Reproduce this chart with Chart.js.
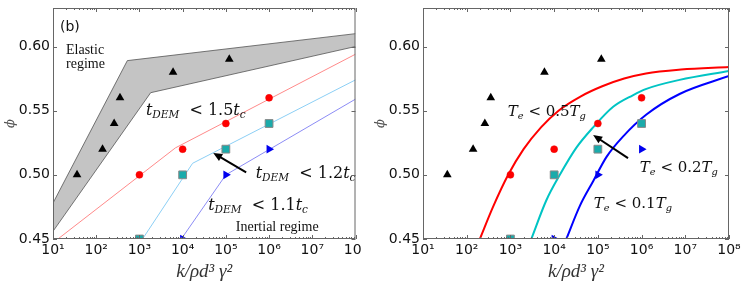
<!DOCTYPE html>
<html>
<head>
<meta charset="utf-8">
<script src="https://cdn.jsdelivr.net/npm/chart.js@4.4.1/dist/chart.umd.min.js"></script>
<style>
  body { margin: 0; background: #fff; }
  .panel { position: absolute; top: 0; height: 286px; }
  #left { left: 0; width: 362px; }
  #right { left: 370px; width: 377px; }
</style>
</head>
<body>
<div class="panel" id="left"><canvas id="chartLeft"></canvas></div>
<div class="panel" id="right"><canvas id="chartRight"></canvas></div>
<script>
// simulation points (same in both panels)
const triX = [36, 140, 260, 355, 6000, 120000];
const triY = [0.50, 0.52, 0.54, 0.56, 0.58, 0.59];
const circX = [1e3, 1e4, 1e5, 1e6];
const circY = [0.50, 0.52, 0.54, 0.56];
const sqX = [1e3, 1e4, 1e5, 1e6];
const sqY = [0.45, 0.50, 0.52, 0.54];
const rtriX = [1e4, 1e5, 1e6];
const rtriY = [0.45, 0.50, 0.52];

// left panel: elastic band and t_DEM limit lines
const bandTopX = [10, 525, 1e8];
const bandTopY = [0.478, 0.589, 0.610];
const bandLowX = [10, 1820, 1e8];
const bandLowY = [0.456, 0.564, 0.600];
const lim15X = [13, 6800, 1e8];
const lim15Y = [0.45, 0.521, 0.594];
const lim12X = [1180, 17000, 1e8];
const lim12Y = [0.45, 0.509, 0.574];
const lim11X = [9300, 1e5, 1e8];
const lim11Y = [0.45, 0.50, 0.559];

// right panel: T_e limit curves
const te05X = [200, 400, 890, 2000, 5000, 12600, 40000, 126000, 400000, 1.26e6, 8e6, 1e8];
const te05Y = [0.450, 0.475, 0.500, 0.520, 0.537, 0.550, 0.561, 0.569, 0.575, 0.579, 0.582, 0.584];
const te02X = [3000, 6600, 13500, 32000, 78000, 224000, 630000, 1.29e6, 7.4e6, 1e8];
const te02Y = [0.450, 0.480, 0.500, 0.521, 0.537, 0.553, 0.562, 0.567, 0.574, 0.581];
const te01X = [19000, 39000, 78000, 158000, 380000, 1.29e6, 7.4e6, 1e8];
const te01Y = [0.450, 0.476, 0.495, 0.514, 0.530, 0.547, 0.563, 0.577];

// axes
const xTicks = [1e1, 1e2, 1e3, 1e4, 1e5, 1e6, 1e7, 1e8];
const yTicks = [0.45, 0.50, 0.55, 0.60];
const sup = ['⁰', '¹', '²', '³', '⁴', '⁵', '⁶', '⁷', '⁸', '⁹'];

const pts = (xs, ys) => xs.map((x, i) => ({x: x, y: ys[i]}));

Chart.defaults.font.family = 'DejaVu Sans';
Chart.defaults.color = '#111';

const markerSets = () => [
	{data: pts(triX, triY), pointStyle: 'triangle', pointRadius: 5, backgroundColor: '#000', borderColor: '#000', borderWidth: 0, order: 0},
	{data: pts(circX, circY), pointStyle: 'circle', pointRadius: 3.5, backgroundColor: '#f00', borderColor: '#e00', borderWidth: 0.5, order: 0},
	{data: pts(sqX, sqY), pointStyle: 'rect', pointRadius: 5.5, backgroundColor: '#1aabab', borderColor: '#888', borderWidth: 1, order: 0},
	{data: pts(rtriX, rtriY), pointStyle: 'triangle', rotation: 90, pointRadius: 5, backgroundColor: '#0000ee', borderColor: '#0000ee', borderWidth: 0, order: 0}
];

const lineSet = (xs, ys, color, width, extra) => Object.assign({
	data: pts(xs, ys), showLine: true, pointRadius: 0, borderColor: color, borderWidth: width, fill: false, order: 1
}, extra || {});

// draws text runs (italic / subscript) and arrows in data coordinates
const notes = {
	id: 'notes',
	afterDatasetsDraw(chart, args, opts) {
		const {ctx, scales: {x, y}} = chart;
		ctx.save();
		(opts.arrows || []).forEach(a => {
			const x0 = x.getPixelForValue(a.from[0]), y0 = y.getPixelForValue(a.from[1]);
			const x1 = x.getPixelForValue(a.to[0]), y1 = y.getPixelForValue(a.to[1]);
			const ang = Math.atan2(y1 - y0, x1 - x0);
			const hl = 9, hw = 4;
			ctx.strokeStyle = '#000';
			ctx.fillStyle = '#000';
			ctx.lineWidth = 2;
			ctx.beginPath();
			ctx.moveTo(x0, y0);
			ctx.lineTo(x1 - Math.cos(ang) * hl * 0.8, y1 - Math.sin(ang) * hl * 0.8);
			ctx.stroke();
			ctx.beginPath();
			ctx.moveTo(x1, y1);
			ctx.lineTo(x1 - Math.cos(ang) * hl - Math.sin(ang) * hw, y1 - Math.sin(ang) * hl + Math.cos(ang) * hw);
			ctx.lineTo(x1 - Math.cos(ang) * hl + Math.sin(ang) * hw, y1 - Math.sin(ang) * hl - Math.cos(ang) * hw);
			ctx.closePath();
			ctx.fill();
		});
		ctx.textBaseline = 'middle';
		ctx.textAlign = 'left';
		ctx.fillStyle = '#111';
		(opts.texts || []).forEach(t => {
			let px = x.getPixelForValue(t.x);
			const py = y.getPixelForValue(t.y);
			t.runs.forEach(r => {
				const size = r.sub ? t.size * 0.66 : t.size;
				ctx.font = (r.it ? 'italic ' : '') + size + 'px ' + t.family;
				ctx.fillText(r.s, px, py + (r.sub ? t.size * 0.3 : 0));
				px += ctx.measureText(r.s).width;
			});
		});
		ctx.restore();
	}
};

// matplotlib-like frame with inward ticks
const frameTicks = {
	id: 'frameTicks',
	afterDraw(chart) {
		const {ctx, chartArea: a, scales: {x, y}} = chart;
		ctx.save();
		ctx.strokeStyle = '#666';
		ctx.lineWidth = 1;
		ctx.strokeRect(a.left + 0.5, a.top + 0.5, a.right - a.left - 1, a.bottom - a.top - 1);
		ctx.beginPath();
		for (let e = 1; e <= 8; e++) {
			for (let k = 1; k <= 9; k++) {
				const v = k * Math.pow(10, e);
				if (v > 1e8) break;
				const px = Math.round(x.getPixelForValue(v)) + 0.5;
				const len = k === 1 ? 4 : 2;
				ctx.moveTo(px, a.bottom); ctx.lineTo(px, a.bottom - len);
				ctx.moveTo(px, a.top); ctx.lineTo(px, a.top + len);
			}
		}
		yTicks.forEach(v => {
			const py = Math.round(y.getPixelForValue(v)) + 0.5;
			ctx.moveTo(a.left, py); ctx.lineTo(a.left + 4, py);
			ctx.moveTo(a.right, py); ctx.lineTo(a.right - 4, py);
		});
		ctx.stroke();
		ctx.restore();
	}
};

const makeOptions = (padRight, noteOpts) => ({
	responsive: true,
	maintainAspectRatio: false,
	animation: false,
	devicePixelRatio: 1,
	layout: {padding: {left: 0, top: 8, right: padRight, bottom: 0}},
	plugins: {legend: {display: false}, tooltip: {enabled: false}, notes: noteOpts},
	scales: {
		x: {
			type: 'logarithmic', min: 10, max: 1e8,
			afterBuildTicks: s => { s.ticks = xTicks.map(v => ({value: v})); },
			afterFit: s => { s.height = 47; s.paddingLeft = 0; s.paddingRight = 0; },
			grid: {display: false, drawTicks: false},
			border: {display: false},
			ticks: {
				padding: 3, maxRotation: 0, autoSkip: false, font: {size: 14},
				callback: v => '10' + sup[Math.round(Math.log10(v))]
			},
			title: {
				display: true, text: 'k/ρd³ γ²', color: '#333',
				font: {family: 'Liberation Serif', style: 'italic', size: 19},
				padding: {top: 0, bottom: 3}
			}
		},
		y: {
			min: 0.45, max: 0.63,
			afterBuildTicks: s => { s.ticks = yTicks.map(v => ({value: v})); },
			afterFit: s => { s.width = 53; s.paddingTop = 0; s.paddingBottom = 0; },
			grid: {display: false, drawTicks: false},
			border: {display: false},
			ticks: {padding: 3, font: {size: 14}, callback: v => v.toFixed(2)},
			title: {
				display: true, text: 'ϕ', color: '#555',
				font: {family: 'DejaVu Serif', style: 'italic', size: 13},
				padding: {top: 3, bottom: 2}
			}
		}
	}
});

const mathFam = 'DejaVu Serif';
const tdem = lim => [{s: 't', it: true}, {s: 'DEM', it: true, sub: true}, {s: '  < ' + lim}, {s: 't', it: true}, {s: 'c', it: true, sub: true}];
const te = lim => [{s: 'T', it: true}, {s: 'e', it: true, sub: true}, {s: ' < ' + lim}, {s: 'T', it: true}, {s: 'g', it: true, sub: true}];

new Chart(document.getElementById('chartLeft'), {
	type: 'scatter',
	data: {
		datasets: markerSets().concat([
			lineSet(lim15X, lim15Y, '#ff8a8a', 1),
			lineSet(lim12X, lim12Y, '#8ccff5', 1),
			lineSet(lim11X, lim11Y, '#8c8cf5', 1),
			lineSet(bandTopX, bandTopY, '#555', 0.8, {order: 2}),
			lineSet(bandLowX, bandLowY, '#555', 0.8, {order: 2, fill: '-1', backgroundColor: '#c4c4c4'})
		])
	},
	options: makeOptions(3, {
		texts: [
			{x: 14.5, y: 0.615, size: 14, family: 'DejaVu Sans', runs: [{s: '(b)'}]},
			{x: 20, y: 0.597, size: 14, family: 'Liberation Serif', runs: [{s: 'Elastic'}]},
			{x: 20, y: 0.586, size: 14, family: 'Liberation Serif', runs: [{s: 'regime'}]},
			{x: 1410, y: 0.55, size: 16, family: mathFam, runs: tdem('1.5')},
			{x: 4.9e5, y: 0.501, size: 16, family: mathFam, runs: tdem('1.2')},
			{x: 3.9e4, y: 0.476, size: 16, family: mathFam, runs: tdem('1.1')},
			{x: 1.7e5, y: 0.459, size: 14, family: 'Liberation Serif', runs: [{s: 'Inertial regime'}]}
		],
		arrows: [{from: [2.95e5, 0.502], to: [5.1e4, 0.517]}]
	}),
	plugins: [notes, frameTicks]
});

new Chart(document.getElementById('chartRight'), {
	type: 'scatter',
	data: {
		datasets: markerSets().concat([
			lineSet(te05X, te05Y, '#ff0000', 2, {cubicInterpolationMode: 'monotone'}),
			lineSet(te02X, te02Y, '#00c4c4', 2, {cubicInterpolationMode: 'monotone'}),
			lineSet(te01X, te01Y, '#0000ff', 2, {cubicInterpolationMode: 'monotone'})
		])
	},
	options: makeOptions(18, {
		texts: [
			{x: 870, y: 0.549, size: 15, family: mathFam, runs: te('0.5')},
			{x: 9.1e5, y: 0.505, size: 15, family: mathFam, runs: te('0.2')},
			{x: 8.1e4, y: 0.477, size: 15, family: mathFam, runs: te('0.1')}
		],
		arrows: [{from: [4.9e5, 0.513], to: [7.8e4, 0.531]}]
	}),
	plugins: [notes, frameTicks]
});
</script>
</body>
</html>
